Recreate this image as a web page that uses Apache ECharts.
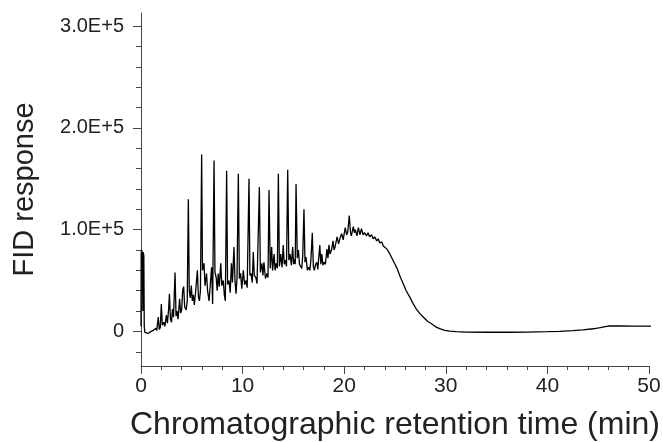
<!DOCTYPE html>
<html>
<head>
<meta charset="utf-8">
<script src="https://cdn.jsdelivr.net/npm/echarts@6/dist/echarts.min.js"></script>
<style>
  html, body { margin: 0; padding: 0; background: #fff; }
  #chart { width: 663px; height: 442px; }
</style>
</head>
<body>
<div id="chart"></div>
<script>
// retention time (min)
const times = [
  0.00, 0.02, 0.08, 0.14, 0.18, 0.22, 0.28, 0.32, 0.38, 0.50, 0.70, 0.85, 1.00, 1.10, 1.20, 1.30,
  1.45, 1.55, 1.70, 1.80, 1.90, 2.00, 2.10, 2.25, 2.35, 2.50, 2.60, 2.72, 2.80, 2.90, 3.00, 3.10,
  3.20, 3.35, 3.45, 3.55, 3.65, 3.80, 3.90, 4.00, 4.10, 4.20, 4.30, 4.45, 4.55, 4.66, 4.75, 4.85,
  4.95, 5.05, 5.15, 5.25, 5.40, 5.55, 5.65, 5.75, 5.85, 5.97, 6.05, 6.20, 6.30, 6.45, 6.55, 6.70,
  6.85, 6.95, 7.05, 7.19, 7.28, 7.40, 7.50, 7.60, 7.70, 7.85, 7.95, 8.10, 8.20, 8.30, 8.43, 8.52,
  8.66, 8.78, 8.90, 9.00, 9.15, 9.25, 9.35, 9.45, 9.58, 9.68, 9.80, 9.92, 10.07, 10.20, 10.33, 10.45,
  10.63, 10.72, 10.83, 10.95, 11.05, 11.15, 11.30, 11.42, 11.65, 11.75, 11.90, 12.00, 12.10, 12.25, 12.40, 12.50,
  12.60, 12.72, 12.86, 12.95, 13.10, 13.20, 13.30, 13.42, 13.52, 13.62, 13.75, 13.88, 14.00, 14.10, 14.20, 14.32,
  14.44, 14.55, 14.67, 14.80, 14.93, 15.02, 15.10, 15.18, 15.26, 15.38, 15.50, 15.60, 15.70, 15.82, 15.92, 16.04,
  16.14, 16.24, 16.38, 16.50, 16.62, 16.72, 16.86, 16.96, 17.06, 17.18, 17.30, 17.40, 17.50, 17.60, 17.70, 17.80,
  17.90, 18.00, 18.15, 18.30, 18.40, 18.50, 18.60, 18.75, 18.90, 19.00, 19.10, 19.20, 19.30, 19.45, 19.60, 19.75,
  19.90, 20.10, 20.25, 20.35, 20.50, 20.62, 20.70, 20.90, 21.00, 21.10, 21.25, 21.40, 21.55, 21.70, 21.85, 22.00,
  22.20, 22.35, 22.50, 22.70, 22.85, 23.00, 23.20, 23.35, 23.50, 23.70, 23.85, 24.00, 24.20, 24.45, 24.70, 25.00,
  25.20, 25.50, 25.80, 26.10, 26.50, 26.80, 27.10, 27.50, 27.80, 28.20, 28.60, 29.00, 29.40, 29.90, 30.40, 31.00,
  32.00, 34.00, 36.00, 38.00, 40.00, 41.20, 42.50, 43.50, 44.50, 45.20, 45.70, 46.00, 47.00, 48.50, 50.60
];

// FID response at each time
const response = [
  5000, 78000, 80000, 76000, 20000, 78000, 74000, 5000, -1000, -2500, -2000, -1500, 0, -500, 1000, 0,
  3000, 1000, 14000, 2000, 4000, 27000, 6000, 9000, 5000, 16000, 8000, 22000, 37000, 12000, 9000, 22000,
  14000, 58000, 15000, 20000, 12000, 32000, 18000, 21000, 40000, 44000, 24000, 21000, 30000, 130000, 40000, 33000,
  45000, 30000, 36000, 26000, 42000, 60000, 34000, 30000, 40000, 174000, 60000, 67000, 45000, 57000, 40000, 30000,
  50000, 63000, 27000, 168000, 58000, 53000, 40000, 57000, 44000, 67000, 45000, 50000, 36000, 30000, 158000, 46000,
  50000, 38000, 67000, 48000, 83000, 50000, 37000, 52000, 155000, 52000, 57000, 42000, 60000, 46000, 50000, 43000,
  150000, 55000, 57000, 48000, 78000, 55000, 53000, 47000, 142000, 58000, 67000, 55000, 68000, 52000, 57000, 53000,
  139000, 62000, 83000, 60000, 76000, 60000, 67000, 62000, 155000, 64000, 76000, 63000, 85000, 66000, 70000, 64000,
  159000, 70000, 76000, 65000, 83000, 66000, 71000, 66000, 145000, 72000, 80000, 66000, 67000, 62000, 75000, 120000,
  68000, 73000, 60000, 63000, 60000, 70000, 97000, 64000, 60000, 66000, 68000, 61000, 62000, 85000, 66000, 76000,
  65000, 68000, 66000, 81000, 72000, 85000, 76000, 80000, 89000, 80000, 83000, 82000, 93000, 86000, 92000, 96000,
  90000, 102000, 95000, 98000, 114000, 97000, 94000, 103000, 97000, 100000, 94000, 102000, 95000, 101000, 95000, 97000,
  94000, 97000, 93000, 95000, 91000, 93000, 89000, 91000, 87000, 88000, 84000, 85000, 81000, 77000, 72000, 66000,
  62000, 54000, 47000, 40000, 33000, 27000, 22000, 17000, 14000, 10000, 7500, 4500, 2700, 1000, 300, -300,
  -700, -800, -800, -700, -300, 0, 800, 1500, 2600, 3800, 4800, 5300, 5300, 5200, 5200
];

const yMajorTicks = [0, 100000, 200000, 300000];
const yMinorTicks = [-20000, 20000, 40000, 60000, 80000, 120000, 140000, 160000, 180000,
  220000, 240000, 260000, 280000];

const points = times.map((t, i) => [t, response[i]]);

const font = 'Liberation Sans, Arial, Helvetica, sans-serif';
const chart = echarts.init(document.getElementById('chart'), null, { renderer: 'canvas' });

const option = {
  animation: false,
  backgroundColor: '#fff',
  grid: {
    left: 141,
    right: 14,
    top: 13,
    bottom: 76,
    containLabel: false,
    outerBoundsMode: 'none'
  },
  xAxis: {
    type: 'value',
    min: 0,
    max: 50,
    interval: 10,
    name: 'Chromatographic retention time (min)',
    nameLocation: 'middle',
    nameGap: 43,
    nameTextStyle: { fontFamily: font, fontSize: 32, color: '#222' },
    axisLine: { onZero: false, lineStyle: { color: '#444', width: 1 } },
    axisTick: { show: true, inside: false, length: 8, lineStyle: { color: '#444' } },
    minorTick: { show: true, splitNumber: 5, length: 4, lineStyle: { color: '#444' } },
    axisLabel: { fontFamily: font, fontSize: 21, color: '#222', margin: 10 },
    splitLine: { show: false },
    minorSplitLine: { show: false }
  },
  yAxis: [
    {
      type: 'value',
      min: -34000,
      max: 313000,
      position: 'left',
      name: 'FID response',
      nameLocation: 'middle',
      nameGap: 102,
      nameRotate: 90,
      nameTextStyle: { fontFamily: font, fontSize: 29, color: '#222' },
      axisLine: { show: true, onZero: false, lineStyle: { color: '#444', width: 1 } },
      axisTick: { show: true, inside: false, length: 8, customValues: yMajorTicks, lineStyle: { color: '#444' } },
      axisLabel: {
        customValues: yMajorTicks,
        fontFamily: font,
        fontSize: 20,
        color: '#222',
        margin: 17,
        formatter: (v) => (v === 0 ? '0' : (v / 100000).toFixed(1) + 'E+5')
      },
      splitLine: { show: false }
    },
    {
      type: 'value',
      min: -34000,
      max: 313000,
      position: 'left',
      axisLine: { show: false },
      axisTick: { show: true, inside: false, length: 5, customValues: yMinorTicks, lineStyle: { color: '#444' } },
      axisLabel: { show: false },
      splitLine: { show: false }
    }
  ],
  series: [
    {
      type: 'line',
      data: points,
      xAxisIndex: 0,
      yAxisIndex: 0,
      showSymbol: false,
      clip: false,
      lineStyle: { color: '#000', width: 1.3 }
    }
  ]
};

chart.setOption(option);
window.onresize = () => {
  chart.resize();
};
</script>
</body>
</html>
